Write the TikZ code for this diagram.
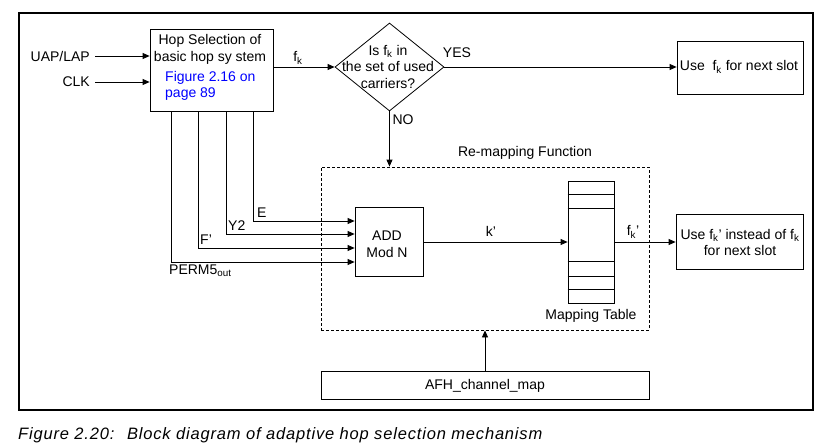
\documentclass[tikz,border=0pt]{standalone}
\usepackage{fontspec}
\setmainfont{Liberation Sans}
\usetikzlibrary{calc, shapes.geometric, arrows.meta}
\newcommand{\fk}{f\textsubscript{k}}

\begin{document}
\begin{tikzpicture}[x=1pt, y=-1pt, font=\fontsize{14}{16.5}\selectfont, >={Triangle[length=7pt, width=6pt]}]
    % boxes with a thin outline
    \tikzstyle{blk}=[draw, line width=.8pt, inner sep=0]
    % decision box
    \tikzstyle{dec}=[draw, diamond, line width=.8pt, inner sep=0]
    % plain text
    \tikzstyle{txt}=[inner sep=0]
    \tikzstyle{wire}=[line width=.8pt, ->]
    \useasboundingbox (0,0) rectangle (833,447);
    % outer frame
    \draw[line width=2.5pt] (19,13) rectangle (813,410);
    % hop selection kernel
    \node[blk, minimum width=123, minimum height=82] (hop) at (211.5,70) {};
    \node[txt, align=center] (hoptxt) at (210,49.5) {Hop Selection of\\basic hop sy stem};
    \node[txt, align=left, anchor=west, text=blue] (hopref) at (165,86) {Figure 2.16 on\\page 89};
    \node[txt, anchor=east] (uap) at (90,56) {UAP/LAP};
    \node[txt, anchor=east] (clk) at (90,82) {CLK};
    \draw[wire] ([xshift=5pt]uap.east) -- (uap.east -| hop.west);
    \draw[wire] ([xshift=5pt]clk.east) -- (clk.east -| hop.west);
    % test on the used carriers
    \node[dec, minimum width=109, minimum height=88] (test) at (389.5,67) {};
    \node[txt, align=center] (testtxt) at (388,66.5) {Is \fk{} in\\the set of used\\carriers?};
    \node[txt] (fk) at (298,58) {\fk};
    \draw[wire] (hop.east |- test.west) -- (test.west);
    \node[blk, minimum width=126, minimum height=53] (usefk) at (740,67.5) {};
    \node[txt] (usefktxt) at (739,67) {Use~ \fk{} for next slot};
    \node[txt] (yes) at (457,53) {YES};
    \draw[wire] (test.east) -- (test.east -| usefk.west);
    % re-mapping function
    \node[blk, dash pattern=on 3pt off 2pt, minimum width=328, minimum height=163] (remap) at (485,248.5) {};
    \node[txt] (remaptxt) at (525,153) {Re-mapping Function};
    \node[txt] (no) at (403,120) {NO};
    \draw[wire] (test.south) -- (test.south |- remap.north);
    \node[blk, minimum width=68, minimum height=69] (add) at (389,241.5) {};
    \node[txt, align=center] (addtxt) at (387,244) {ADD\\Mod N};
    % inputs from the kernel
    \coordinate (e) at (253,221);
    \coordinate (y2) at (226,234);
    \coordinate (fp) at (198,248);
    \coordinate (perm) at (171,262);
    \draw[wire] (e |- hop.south) -- (e) -- (e -| add.west);
    \draw[wire] (y2 |- hop.south) -- (y2) -- (y2 -| add.west);
    \draw[wire] (fp |- hop.south) -- (fp) -- (fp -| add.west);
    \draw[wire] (perm |- hop.south) -- (perm) -- (perm -| add.west);
    \node[txt, anchor=south west] (etxt) at ($(e)+(4,-3)$) {E};
    \node[txt, anchor=south west] (y2txt) at ($(y2)+(2,-3)$) {Y2};
    \node[txt, anchor=south west] (fptxt) at ($(fp)+(2,-3)$) {F'};
    \node[txt, anchor=north west] (permtxt) at ($(perm)+(-2,3)$) {PERM5\textsubscript{out}};
    % mapping table
    \node[blk, minimum width=46, minimum height=122] (maptab) at (591,242) {};
    \foreach \y in {194,208,261,276,289}
        \draw[line width=.8pt] (maptab.west |- 0,\y) -- (maptab.east |- 0,\y);
    \node[txt] (maptabtxt) at (591,316) {Mapping Table};
    \draw[wire] (add.east |- maptab.west) -- (maptab.west);
    \node[txt] (kp) at (491,231) {k'};
    \node[blk, minimum width=127, minimum height=55] (usefkp) at (739.5,241.5) {};
    \node[txt, align=center] (usefkptxt) at (740,242.5) {Use \fk' instead of \fk\\for next slot};
    \draw[wire] (maptab.east) -- (maptab.east -| usefkp.west);
    \node[txt] (fkp) at (633,232) {\fk'};
    % channel map
    \node[blk, minimum width=328, minimum height=28] (afh) at (485,385) {};
    \node[txt] (afhtxt) at (485,386) {AFH\_channel\_map};
    \draw[wire] (afh.north) -- (afh.north |- remap.south);
    % caption
    \node[txt, anchor=west, font=\fontsize{16.5}{19}\selectfont\itshape\addfontfeature{LetterSpace=5}] (caption) at (18,435) {Figure 2.20:~ Block diagram of adaptive hop selection mechanism};
\end{tikzpicture}
\end{document}
